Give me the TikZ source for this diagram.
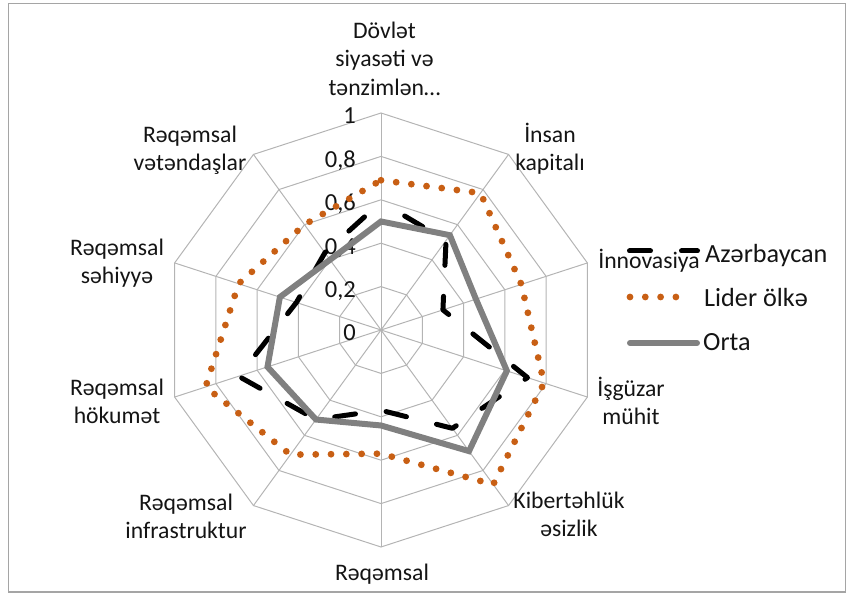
\documentclass[tikz,border=0pt]{standalone}
\usepackage{fontspec}
\setmainfont{Carlito}
\begin{document}
\definecolor{gridcol}{RGB}{180,180,180}
\definecolor{framecol}{RGB}{165,165,165}
\definecolor{lidercol}{RGB}{200,95,20}
\definecolor{ortacol}{RGB}{128,128,128}
\definecolor{textcol}{RGB}{20,20,20}
\begin{tikzpicture}[x=1pt,y=1pt,
  grid/.style={draw=gridcol,line width=1pt},
  azline/.style={draw=black,line width=5pt,line cap=round,line join=round,dash pattern=on 21pt off 31pt},
  liderline/.style={draw=lidercol,line width=6.8pt,line cap=round,dash pattern=on 0pt off 15.3pt},
  ortaline/.style={draw=ortacol,line width=6pt,line join=miter,line cap=round},
  lab/.style={align=center,anchor=north,inner sep=0pt,text=textcol,font=\fontsize{23.7}{28.5}\selectfont},
  tick/.style={anchor=base east,inner sep=0pt,text=textcol,font=\fontsize{24.5}{28}\selectfont},
  legtext/.style={anchor=base west,inner sep=0pt,text=textcol,font=\fontsize{26.2}{30}\selectfont}]
\useasboundingbox (0,0) rectangle (846,594);
\draw[framecol,line width=1.3pt] (8.5,2) rectangle (845.5,590.5);

\def\R{217}
\begin{scope}[shift={(381,264)}]
  % rings and spokes
  \foreach \r in {0.2,0.4,0.6,0.8,1}
    \draw[grid] (90:\r*\R) \foreach \a in {54,18,...,-234} { -- (\a:\r*\R) } -- cycle;
  \foreach \a in {90,54,...,-234}
    \draw[grid] (0,0) -- (\a:\R);

  % value scale
  \foreach \v/\t [count=\i] in {0/0,0.2/{0,2},0.4/{0,4},0.6/{0,6},0.8/{0,8},1/1}
    \node[tick] (tk\i) at (-25,\v*\R-11) {\t};

  % series: Azərbaycan
  \draw[azline,dash phase=24.5pt]
    (90:0.59*\R) -- (54:0.51*\R) -- (18:0.30*\R) -- (-18:0.71*\R) -- (-54:0.56*\R)
    -- (-90:0.37*\R) -- (-126:0.51*\R) -- (-162:0.69*\R) -- (-198:0.41*\R) -- (-234:0.44*\R) -- cycle;
  % series: Lider ölkə
  \draw[liderline]
    (90:0.69*\R) -- (54:0.78*\R) -- (18:0.68*\R) -- (-18:0.79*\R) -- (-54:0.88*\R)
    -- (-90:0.57*\R) -- (-126:0.71*\R) -- (-162:0.85*\R) -- (-198:0.69*\R) -- (-234:0.60*\R) -- cycle;
  % series: Orta
  \draw[ortaline]
    (90:0.50*\R) -- (54:0.54*\R) -- (18:0.46*\R) -- (-18:0.61*\R) -- (-54:0.69*\R)
    -- (-90:0.44*\R) -- (-126:0.51*\R) -- (-162:0.55*\R) -- (-198:0.49*\R) -- (-234:0.40*\R) -- cycle;
\end{scope}

% category labels
\node[lab] (c0) at (384.5,576) {\rule{0pt}{20pt}Dövlət\\siyasəti və\\tənzimlən…};
\node[lab] (c1) at (550,472) {\rule{0pt}{20pt}İnsan\\kapitalı};
\node[lab] (c2) at (649,346) {\rule{0pt}{20pt}İnnovasiya};
\node[lab] (c3) at (631,218) {\rule{0pt}{20pt}İşgüzar\\mühit};
\node[lab] (c4) at (569,106) {\rule{0pt}{20pt}Kibertəhlük\\əsizlik};
\node[lab] (c5) at (382,34) {\rule{0pt}{20pt}Rəqəmsal};
\node[lab] (c6) at (186,104) {\rule{0pt}{20pt}Rəqəmsal\\infrastruktur};
\node[lab] (c7) at (117,219) {\rule{0pt}{20pt}Rəqəmsal\\hökumət};
\node[lab] (c8) at (117,359) {\rule{0pt}{20pt}Rəqəmsal\\səhiyyə};
\node[lab] (c9) at (190,472) {\rule{0pt}{20pt}Rəqəmsal\\vətəndaşlar};

% legend
\coordinate (la1) at (629.5,343); \coordinate (la2) at (697.5,343);
\coordinate (lb1) at (630,297);   \coordinate (lb2) at (691,297);
\coordinate (lc1) at (630,251);   \coordinate (lc2) at (697,251);
\draw[azline] (la1) -- (la2);
\draw[liderline] (lb1) -- (lb2);
\draw[ortaline] (lc1) -- (lc2);
\node[legtext] (lega) at (705,331) {Azərbaycan};
\node[legtext] (legb) at (704,287) {Lider ölkə};
\node[legtext] (legc) at (703,243) {Orta};
\end{tikzpicture}
\end{document}
